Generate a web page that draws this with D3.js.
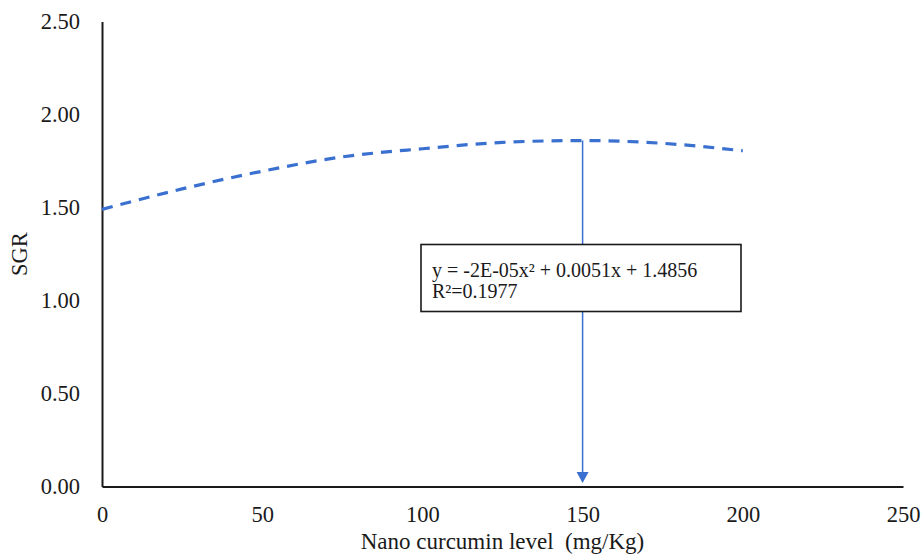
<!DOCTYPE html>
<html>
<head>
<meta charset="utf-8">
<script src="https://cdn.jsdelivr.net/npm/d3@7/dist/d3.min.js"></script>
<style>
  body { margin: 0; background: #fff; }
</style>
</head>
<body>
<svg id="chart" width="922" height="560"></svg>
<script>
// Data
const levels = [0, 25, 50, 75, 100, 125, 150, 175, 200];
const sgr    = [1.49, 1.60, 1.695, 1.772, 1.816, 1.850, 1.860, 1.845, 1.805];
const xTicks = [0, 50, 100, 150, 200, 250];
const yTicks = [0, 0.5, 1.0, 1.5, 2.0, 2.5];
const optimumLevel = 150;
const equationText = "y = -2E-05x\u00B2 + 0.0051x + 1.4856";
const r2Text = "R\u00B2=0.1977";

const FONT = "'Times New Roman', 'Liberation Serif', Tinos, 'Noto Serif', 'DejaVu Serif', serif";
const svg = d3.select("#chart");
const m = { left: 102, right: 19, top: 21.5, bottom: 73.5 };
const W = 922, H = 560;

const x = d3.scaleLinear().domain([0, 250]).range([m.left, W - m.right]);
const y = d3.scaleLinear().domain([0, 2.5]).range([H - m.bottom, m.top]);

// Axes
const xAxis = d3.axisBottom(x).tickValues(xTicks).tickSize(0).tickPadding(20).tickFormat(d3.format("d"));
const yAxis = d3.axisLeft(y).tickValues(yTicks).tickSize(0).tickPadding(22).tickFormat(d3.format(".2f"));

const gx = svg.append("g").attr("transform", `translate(0,${y(0)})`).call(xAxis);
const gy = svg.append("g").attr("transform", `translate(${x(0)},0)`).call(yAxis);
[gx, gy].forEach(g => {
  g.attr("font-family", FONT).attr("font-size", 22);
  g.select(".domain").attr("stroke", "#1a1a1a").attr("stroke-width", 2);
  g.selectAll("text").attr("font-family", FONT).style("font-family", FONT).style("font-size", "22.5px").attr("fill", "#1a1a1a");
});

// Curve
const line = d3.line()
  .x((d, i) => x(levels[i]))
  .y(d => y(d))
  .curve(d3.curveMonotoneX);

svg.append("path")
  .datum(sgr)
  .attr("d", line)
  .attr("fill", "none")
  .attr("stroke", "#3a70d0")
  .attr("stroke-width", 3.2)
  .attr("stroke-dasharray", "11,8");

// Arrow at optimum
const optIdx = levels.indexOf(optimumLevel);
const ax = x(optimumLevel);
const topY = y(sgr[optIdx]);
const tipY = y(0) - 3.5;
svg.append("line")
  .attr("x1", ax).attr("x2", ax)
  .attr("y1", topY).attr("y2", tipY - 10)
  .attr("stroke", "#3a70d0").attr("stroke-width", 1.5);
svg.append("path")
  .attr("d", `M${ax - 6},${tipY - 11} L${ax + 6},${tipY - 11} L${ax},${tipY} Z`)
  .attr("fill", "#3a70d0");

// Equation box
const bx = 421, by = 244.5, bw = 320, bh = 67;
svg.append("rect")
  .attr("x", bx).attr("y", by).attr("width", bw).attr("height", bh)
  .attr("fill", "#fff").attr("stroke", "#1a1a1a").attr("stroke-width", 1.6);

svg.append("text").attr("x", 432).attr("y", 276.5)
  .attr("font-family", FONT).style("font-family", FONT).style("font-size", "20px").attr("fill", "#1a1a1a")
  .text(equationText);

svg.append("text").attr("x", 432).attr("y", 298)
  .attr("font-family", FONT).style("font-family", FONT).style("font-size", "20px").attr("fill", "#1a1a1a")
  .text(r2Text);

// Axis titles
svg.append("text")
  .attr("x", (x(0) + x(250)) / 2).attr("y", 549)
  .attr("text-anchor", "middle")
  .attr("font-family", FONT).style("font-family", FONT).style("font-size", "23px").attr("fill", "#1a1a1a")
  .style("white-space", "pre")
  .text("Nano curcumin level  (mg/Kg)");

svg.append("text")
  .attr("transform", `translate(27,${(y(0) + y(2.5)) / 2}) rotate(-90)`)
  .attr("text-anchor", "middle")
  .attr("font-family", FONT).style("font-family", FONT).style("font-size", "22.5px").attr("fill", "#1a1a1a")
  .text("SGR");
</script>
</body>
</html>
